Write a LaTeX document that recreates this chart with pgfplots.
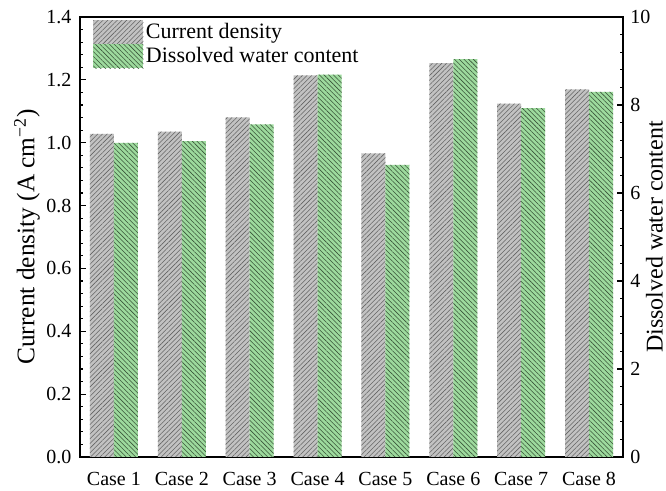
\documentclass[border=0pt]{standalone}
\usepackage{fontspec}
\setmainfont{Liberation Serif}
\usepackage{pgfplots}
\pgfplotsset{compat=1.18}
\usetikzlibrary{patterns.meta}

\definecolor{barGray}{HTML}{C2C2C2}
\definecolor{barGrayLine}{HTML}{646464}
\definecolor{barGreen}{HTML}{9DDA9D}
\definecolor{barGreenLine}{HTML}{385438}

\pgfplotsset{
  cdbar/.style={fill=barGray, draw=none,
    postaction={pattern={Lines[angle=45,distance=2.5pt,line width=0.42pt]}, pattern color=barGrayLine}},
  wcbar/.style={fill=barGreen, draw=none,
    postaction={pattern={Lines[angle=-45,distance=2.5pt,line width=0.42pt]}, pattern color=barGreenLine}},
  common/.style={
    width=407.25pt, height=330pt, scale only axis,
    xmin=0.5, xmax=8.5,
    ybar, bar width=18pt,
    font=\fontsize{15}{17}\selectfont,
    tick label style={font=\fontsize{15}{17}\selectfont},
    label style={font=\fontsize{19}{22}\selectfont},
    /pgf/number format/assume math mode=true,
    major tick length=4.5pt, minor tick length=2.6pt,
    tick align=inside,
    tick style={black, line width=0.8pt},
    axis line style={line width=0.9pt},
  },
}

\begin{document}
\begin{tikzpicture}
% Left axis: current density
\begin{axis}[common,
  ymin=0, ymax=1.4,
  ytick={0,0.2,...,1.4},
  minor y tick num=4,
  ytick pos=left,
  yticklabel style={xshift=-3pt, /pgf/number format/.cd, fixed, fixed zerofill, precision=1},
  xtick={1,...,8},
  xticklabels={Case 1,Case 2,Case 3,Case 4,Case 5,Case 6,Case 7,Case 8},
  xticklabel style={yshift=-8pt},
  x tick style={draw=none},
  ylabel={Current density (A cm\textsuperscript{−2})},
  ylabel style={at={(axis description cs:-0.0976,0.5)}, anchor=center},
  legend image code/.code={\fill[#1] (0pt,-9pt) rectangle (37.5pt,9pt);},
  legend style={draw=none, fill=none, at={(axis description cs:0.024,0.993)},
    anchor=north west, inner sep=0pt, row sep=0pt,
    font=\fontsize{16.5}{19}\selectfont},
  legend cell align=left,
]
\addplot[cdbar, bar shift=-9pt] coordinates {
  (1,1.028) (2,1.035) (3,1.081) (4,1.214) (5,0.966) (6,1.253) (7,1.124) (8,1.170)};
\addlegendentry{Current density}
\addlegendimage{wcbar}
\addlegendentry{Dissolved water content}
\end{axis}

% Right axis: dissolved water content
\begin{axis}[common,
  ymin=0, ymax=10,
  ytick={0,2,...,10},
  minor y tick num=4,
  axis y line*=right,
  axis x line=none,
  yticklabel style={xshift=2pt},
  clip=false,
]
\addplot[wcbar, bar shift=9pt] coordinates {
  (1,7.14) (2,7.18) (3,7.56) (4,8.69) (5,6.64) (6,9.04) (7,7.93) (8,8.30)};
\node[rotate=90, anchor=center, font=\fontsize{18}{21}\selectfont]
  at (axis description cs:1.058,0.5) {Dissolved water content};
\end{axis}

\pgfresetboundingbox
\useasboundingbox (-60pt,-25.5pt) rectangle (439.5pt,342.75pt);
\end{tikzpicture}
\end{document}
